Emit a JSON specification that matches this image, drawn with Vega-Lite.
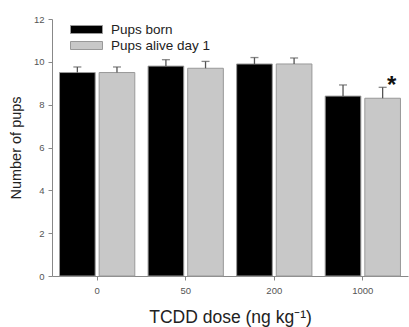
{
  "$schema": "https://vega.github.io/schema/vega-lite/v6.json",
  "width": 356,
  "height": 257,
  "autosize": "none",
  "padding": {"left": 52, "top": 19, "right": 1, "bottom": 51},
  "background": "#ffffff",
  "config": {
    "font": "Liberation Sans",
    "view": {"stroke": null},
    "axis": {
      "domainColor": "#888888",
      "tickColor": "#888888",
      "labelColor": "#555555",
      "labelFontSize": 9.5,
      "tickSize": 4,
      "grid": false,
      "titleFontWeight": "normal",
      "titleColor": "#222222"
    }
  },
  "data": {
    "values": [
      {"dose": "0", "series": "Pups born", "value": 9.5, "upper": 9.76, "sig": ""},
      {"dose": "0", "series": "Pups alive day 1", "value": 9.5, "upper": 9.76, "sig": ""},
      {"dose": "50", "series": "Pups born", "value": 9.8, "upper": 10.1, "sig": ""},
      {"dose": "50", "series": "Pups alive day 1", "value": 9.7, "upper": 10.02, "sig": ""},
      {"dose": "200", "series": "Pups born", "value": 9.9, "upper": 10.2, "sig": ""},
      {"dose": "200", "series": "Pups alive day 1", "value": 9.9, "upper": 10.18, "sig": ""},
      {"dose": "1000", "series": "Pups born", "value": 8.4, "upper": 8.92, "sig": ""},
      {"dose": "1000", "series": "Pups alive day 1", "value": 8.3, "upper": 8.81, "sig": "*"}
    ]
  },
  "encoding": {
    "x": {
      "field": "dose",
      "type": "nominal",
      "sort": ["0", "50", "200", "1000"],
      "scale": {"paddingInner": 0.15, "paddingOuter": 0.085},
      "axis": {
        "labelAngle": 0,
        "labelPadding": 5,
        "title": "TCDD dose (ng kg⁻¹)",
        "titleFontSize": 17.5,
        "titlePadding": 14
      }
    },
    "xOffset": {
      "field": "series",
      "type": "nominal",
      "sort": ["Pups born", "Pups alive day 1"],
      "scale": {"paddingInner": 0.1}
    }
  },
  "layer": [
    {
      "mark": {"type": "bar", "stroke": "#999999", "strokeWidth": 1},
      "encoding": {
        "y": {
          "field": "value",
          "type": "quantitative",
          "scale": {"domain": [0, 12], "nice": false},
          "axis": {
            "values": [0, 2, 4, 6, 8, 10, 12],
            "labelPadding": 4,
            "title": "Number of pups",
            "titleFontSize": 14.5,
            "titlePadding": 10
          }
        },
        "color": {
          "field": "series",
          "type": "nominal",
          "sort": ["Pups born", "Pups alive day 1"],
          "scale": {"domain": ["Pups born", "Pups alive day 1"], "range": ["#000000", "#c8c8c8"]},
          "legend": {
            "title": null,
            "orient": "none",
            "legendX": 26,
            "legendY": 2,
            "padding": 0,
            "symbolType": "M-2,-0.5L2,-0.5L2,0.5L-2,0.5Z",
            "symbolSize": 256,
            "symbolStrokeColor": "#999999",
            "symbolStrokeWidth": 1,
            "symbolOpacity": 1,
            "labelFontSize": 13.5,
            "labelColor": "#222222",
            "labelOffset": 16,
            "rowPadding": 1
          }
        }
      }
    },
    {
      "mark": {"type": "rule", "color": "#555555", "strokeWidth": 1.3},
      "encoding": {
        "y": {"field": "value", "type": "quantitative"},
        "y2": {"field": "upper"}
      }
    },
    {
      "mark": {"type": "tick", "color": "#555555", "thickness": 1.3, "size": 8},
      "encoding": {
        "y": {"field": "upper", "type": "quantitative"}
      }
    },
    {
      "transform": [{"filter": "datum.sig != ''"}],
      "mark": {"type": "text", "fontSize": 24, "fontWeight": "bold", "color": "#111111", "baseline": "alphabetic", "dx": 9, "dy": 6},
      "encoding": {
        "y": {"field": "upper", "type": "quantitative"},
        "text": {"field": "sig"}
      }
    }
  ]
}
